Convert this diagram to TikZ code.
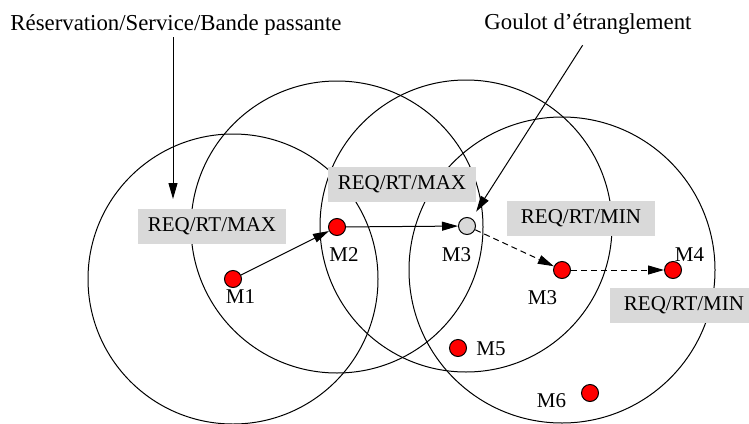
\documentclass[tikz,border=0pt]{standalone}
\usepackage{fontspec}
\setmainfont{Liberation Serif}
\usetikzlibrary{arrows.meta}

\begin{document}
\begin{tikzpicture}[x=0.5pt, y=-0.5pt,
  every node/.style={font=\fontsize{10.5}{12}\selectfont},
  mobile/.style={circle, draw, line width=0.5pt, fill=red, minimum size=8.5pt, inner sep=0pt},
  relais/.style={mobile, fill=gray!30},
  reqbox/.style={fill=gray!30, minimum width=74pt, minimum height=17.5pt, inner sep=0pt},
  legende/.style={inner sep=1pt, font=\fontsize{11.4}{13}\selectfont},
  fleche/.style={-{Triangle[length=8pt,width=4.5pt]}, line width=0.5pt},
  pointille/.style={fleche, dash pattern=on 3pt off 2pt}]
  \useasboundingbox (0,0) rectangle (749,423);
  % Zones de couverture
  \draw[line width=0.5pt] (233,279) circle[radius=72.5pt];
  \draw[line width=0.5pt] (337,227) circle[radius=73pt];
  \draw[line width=0.5pt] (466,226) circle[radius=73pt];
  \draw[line width=0.5pt] (562,270) circle[radius=76.5pt];
  % Reservations
  \node[reqbox] (r1) at (212,226.5) {REQ/RT/MAX};
  \node[reqbox] (r2) at (402,184.5) {REQ/RT/MAX};
  \node[reqbox] (r3) at (581,218.5) {REQ/RT/MIN};
  \node[reqbox] (r4) at (684,305) {REQ/RT/MIN};
  % Mobiles
  \node[mobile] (m1) at (233,279) {};
  \node[mobile] (m2) at (337,227) {};
  \node[relais] (m3g) at (467,226) {};
  \node[mobile] (m3) at (562,270) {};
  \node[mobile] (m4) at (673,270) {};
  \node[mobile] (m5) at (458,348) {};
  \node[mobile] (m6) at (590,393) {};
  \node (l1) at (240.5,297) {M1};
  \node (l2) at (344,254.5) {M2};
  \node (l3g) at (456.5,254.5) {M3};
  \node (l3) at (542.5,297.5) {M3};
  \node (l4) at (689.5,254.5) {M4};
  \node (l5) at (491,348.5) {M5};
  \node (l6) at (551.5,401) {M6};
  % Legendes
  \node[legende, anchor=base] (resa) at (176,30) {Réservation/Service/Bande passante};
  \node[legende, anchor=base] (goulot) at (588,29.5) {Goulot d’étranglement};
  \coordinate (resa tip) at (173,199);
  \draw[fleche] (resa.south -| resa tip) -- (resa tip);
  \draw[fleche, shorten <=5pt, shorten >=4pt] (goulot.south) -- (m3g);
  % Chemin
  \draw[fleche] (m1) -- (m2);
  \draw[fleche] (m2) -- (m3g);
  \draw[pointille] (m3g) -- (m3);
  \draw[pointille] (m3) -- (m4);
\end{tikzpicture}
\end{document}
